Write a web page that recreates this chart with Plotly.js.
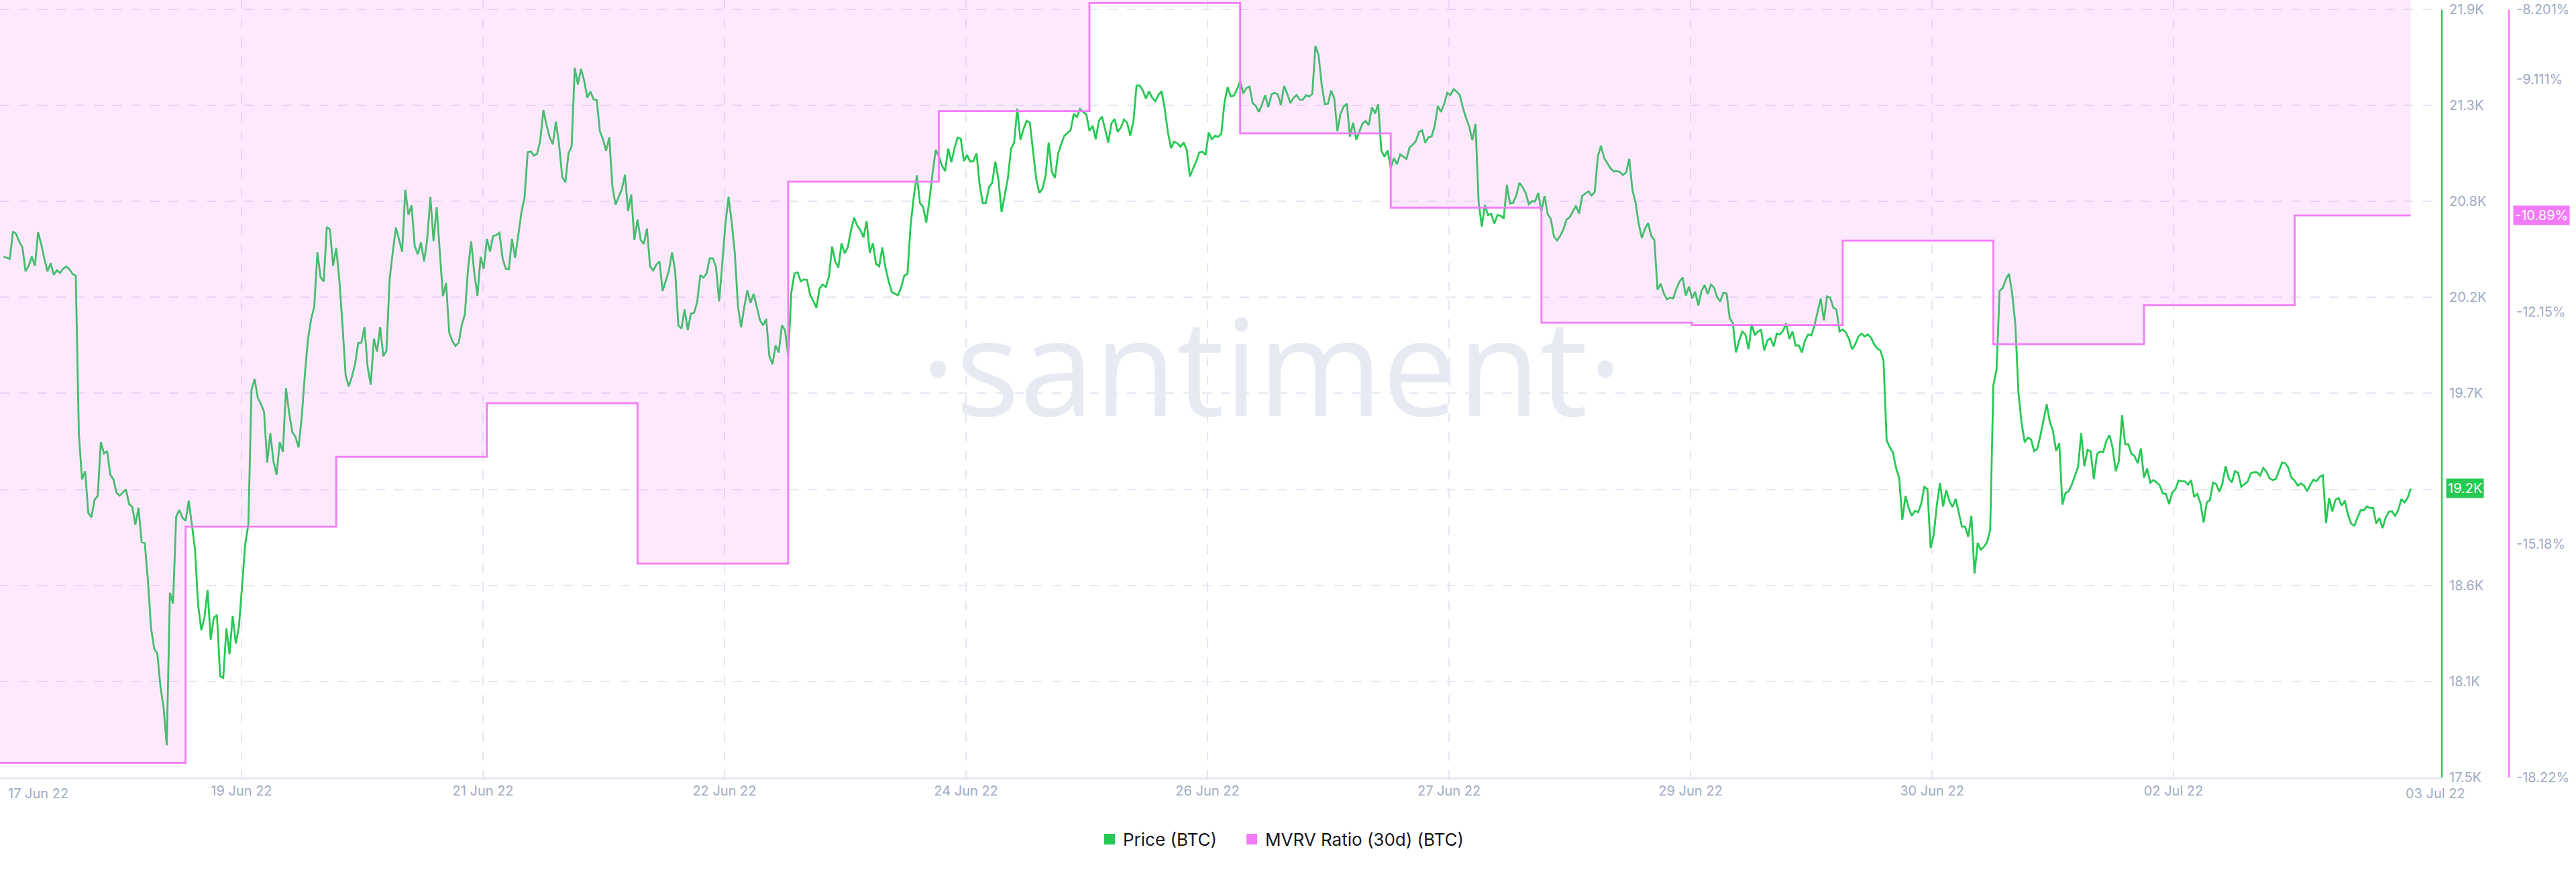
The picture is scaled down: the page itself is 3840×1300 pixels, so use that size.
<!DOCTYPE html>
<html>
<head>
<meta charset="utf-8">
<script src="https://cdn.plot.ly/plotly-3.0.1.min.js"></script>
<style>
  html, body { margin: 0; padding: 0; background: #ffffff; }
  #chart { width: 3840px; height: 1300px; }
</style>
</head>
<body>
<div id="chart"></div>
<script>
// ---------- DATA ----------
// BTC price (USD), 30-minute samples, first sample at priceStart (chart local time)
const priceStart = '2022-06-18 00:30';
const priceStepMinutes = 30;
const priceValues = [
20482,20476,20470,20627,20613,20568,20537,20399,20430,20483,
20430,20623,20554,20470,20399,20446,20379,20405,20389,20414,
20426,20410,20383,20373,19465,19207,19254,19014,18990,19091,
19112,19420,19355,19370,19234,19207,19130,19114,19132,19150,
19065,19051,18947,19045,18848,18842,18628,18354,18238,18210,
18019,17897,17684,18557,18496,18994,19032,18988,18969,19085,
18949,18805,18486,18344,18415,18573,18289,18415,18429,18080,
18070,18354,18206,18425,18267,18364,18598,18835,18949,19719,
19782,19674,19640,19593,19303,19471,19309,19234,19420,19364,
19729,19587,19477,19451,19390,19563,19806,20009,20125,20196,
20507,20365,20340,20653,20639,20430,20533,20345,20091,19802,
19739,19796,19867,19989,19989,20080,19851,19749,20013,19938,
20080,19912,19944,20351,20507,20649,20582,20510,
20866,20722,20777,20544,20496,20564,20455,20585,20825,20571,
20766,20516,20256,20332,20048,19999,19971,19989,20092,20153,
20414,20571,20386,20259,20482,20414,20585,20512,20601,20606,
20619,20473,20414,20411,20585,20475,20599,20736,20821,21081,
21085,21062,21072,21147,21322,21236,21167,21126,21256,21126,
20941,20907,21072,21115,21565,21469,21558,21490,21394,21428,
21383,21380,21202,21154,21089,21167,20884,20780,20825,20870,
20952,20743,20839,20578,20695,20578,20555,20643,20427,20404,
20437,20455,20286,20345,20403,20506,20400,20089,20071,20181,
20062,20157,20160,20222,20377,20363,20386,20473,20473,20423,
20226,20441,20670,20825,20681,20503,20199,20078,20194,20290,
20218,20270,20199,20119,20089,20126,19914,19866,19975,19934,
20089,20062,19914,20277,20386,20393,20341,20352,20349,20263,
20229,20190,20300,
20323,20309,20370,20540,20455,20420,20559,20502,20536,20632,
20706,20661,20635,20593,20686,20505,20559,20441,20427,20536,
20420,20342,20280,20271,20261,20306,20374,20384,20658,20824,
20948,20789,20767,20678,20806,20959,21094,21058,21004,20973,
21101,21023,21104,21165,21158,21030,21065,21027,21030,21075,
20895,20789,20791,20881,20905,21027,20924,20739,20838,20931,
21101,21136,21331,21151,21214,21261,21250,21080,20931,20848,
20871,20945,21136,20970,20933,21073,21129,21175,21193,21207,
21300,21283,21328,21311,21297,21203,21232,21155,21260,21285,
21207,21136,21246,21271,21197,21222,21268,21250,21175,21257,
21463,21463,21434,21388,21430,21392,21373,21410,21430,21328,
21193,21104,21141,21132,21112,21136,21094,20942,20987,21027,
21080,21084,21065,21193,21155,21175,21169,21186,
21362,21454,21401,21404,21441,21487,21417,21448,21457,21362,
21346,21312,21355,21408,21338,21412,21421,21412,21351,21461,
21417,21362,21391,21408,21382,21382,21408,21399,21415,21690,
21637,21468,21355,21359,21435,21388,21201,21302,21342,21359,
21170,21250,21153,21201,21246,21259,21236,21338,21302,21355,
21091,21055,21091,20992,21047,21012,21069,21055,21042,21108,
21124,21144,21197,21206,21135,21166,21170,21232,21346,21312,
21355,21421,21408,21441,21428,21408,21335,21276,21227,21150,
21243,20796,20655,20778,20721,20728,20672,20721,20717,20701,
20893,20787,20791,20833,20906,20880,20847,20783,20800,20800,
20847,20741,20831,20725,20699,20598,20576,20602,20638,20695,
20708,20741,20774,20730,20831,20844,20857,20833,20853,21058,
21117,21047,21018,20989,20972,20972,20968,20950,20965,
21043,20865,20791,20671,20590,20642,20676,20602,20577,20294,
20328,20272,20238,20248,20243,20299,20340,20363,20260,20311,
20243,20282,20203,20286,20320,20268,20323,20306,20251,20226,
20277,20272,20131,20101,19934,20003,20054,20037,19952,20097,
20032,20054,20063,19946,20003,20015,19969,20042,20037,20059,
20101,20011,20054,19974,19974,19934,20003,20037,20032,20089,
20166,20243,20118,20255,20248,20191,20179,20054,20066,20049,
20011,19952,19981,20025,20042,20025,20037,20020,19981,19957,
19946,19888,19432,19391,19361,19272,19215,18975,19112,19044,
18998,19027,19018,19066,19164,19152,18813,18890,19061,19186,
19052,19147,19083,19049,19095,19015,18936,18936,18878,18998,
18667,18843,18804,18821,18847,18919,19746,19832,20286,20303,
20354,20385,20272,20097,
19702,19529,19420,19446,19436,19369,19382,19459,19548,19638,
19535,19484,19369,19414,19062,19129,19139,19177,19228,19280,
19471,19282,19376,19367,19209,19350,19367,19363,19427,19461,
19388,19254,19312,19574,19408,19408,19354,19341,19299,19384,
19216,19269,19188,19203,19190,19173,19126,19124,19065,19133,
19149,19200,19196,19196,19177,19203,19107,19124,19069,18960,
19075,19088,19188,19180,19136,19184,19282,19213,19190,19254,
19244,19165,19180,19193,19241,19248,19248,19228,19273,19251,
19213,19203,19209,19254,19303,19299,19273,19216,19200,19171,
19184,19171,19139,19177,19205,19197,19222,19231,18957,19101,
19024,19090,19101,19056,19085,19005,18954,18941,18986,19030,
19030,19052,19043,19043,18954,18986,18928,18988,19021,19024,
18998,19030,19094,19075,19101,19154
];

// MVRV Ratio (30d), daily values (%), last entry = latest reading at the end of the data
const mvrvDates = [
'2022-06-17 05:30','2022-06-18 05:30','2022-06-19 05:30','2022-06-20 05:30',
'2022-06-21 05:30','2022-06-22 05:30','2022-06-23 05:30','2022-06-24 05:30',
'2022-06-25 05:30','2022-06-26 05:30','2022-06-27 05:30','2022-06-28 05:30',
'2022-06-29 05:30','2022-06-30 05:30','2022-07-01 05:30','2022-07-02 05:30',
'2022-07-03 05:30','2022-07-04 00:00'
];
const mvrvValues = [
-18.03,-18.03,-14.95,-14.04,-13.34,-15.43,-10.45,-9.53,
-8.12,-9.82,-10.79,-12.29,-12.32,-11.22,-12.57,-12.06,
-10.89,-10.89
];

// Axes
const xRange = ['2022-06-17 23:56','2022-07-04 04:57'];
const xTickVals = ['2022-06-17 23:56','2022-06-19 14:24','2022-06-21 04:53','2022-06-22 19:21',
  '2022-06-24 09:50','2022-06-26 00:18','2022-06-27 14:47','2022-06-29 05:15',
  '2022-06-30 19:44','2022-07-02 10:12'];
const xTickText = ['17 Jun 22','19 Jun 22','21 Jun 22','22 Jun 22','24 Jun 22','26 Jun 22',
  '27 Jun 22','29 Jun 22','30 Jun 22','02 Jul 22'];
const xEndLabel = '03 Jul 22';
const xEndLabelPos = '2022-07-04 03:53';

const priceRange = [17500, 21952.6];
const priceTickVals = [17500,18050,18600,19150,19700,20250,20800,21350,21900];
const priceTickText = ['17.5K','18.1K','18.6K','19.2K','19.7K','20.2K','20.8K','21.3K','21.9K'];

const mvrvRange = [-18.22, -8.081];
const mvrvTickVals = [-18.22,-15.18,-12.15,-9.111,-8.201];
const mvrvTickText = ['-18.22%','-15.18%','-12.15%','-9.111%','-8.201%'];

const seriesNames = ['Price (BTC)', 'MVRV Ratio (30d) (BTC)'];

// ---------- BUILD ----------
function parseLocal(s) {
  const m = s.match(/(\d+)-(\d+)-(\d+) (\d+):(\d+)/);
  return Date.UTC(+m[1], +m[2]-1, +m[3], +m[4], +m[5]);
}
function fmt(ms) {
  const d = new Date(ms), p = n => String(n).padStart(2,'0');
  return d.getUTCFullYear()+'-'+p(d.getUTCMonth()+1)+'-'+p(d.getUTCDate())+' '+p(d.getUTCHours())+':'+p(d.getUTCMinutes());
}
const t0 = parseLocal(priceStart);
const priceTimes = priceValues.map((_, i) => fmt(t0 + i*priceStepMinutes*60000));

const GREEN = '#26c953', PINK = '#f47bf7';
const FONT = 'Inter, "Open Sans", sans-serif';
const TICK_FONT = {family: FONT, size: 20, color: '#9faac4'};
const LEGEND_FONT = {family: FONT, size: 26, color: '#15161d'};
const GRID = '#e4e7f2';
const W = 3840, H = 1300, ML = 0, MR = 100, MT = 0, MB = 141;
const paperW = W - ML - MR;             // 3740
const plotRight = 3640;                  // price axis position
const plotH = H - MT - MB;               // 1159
const axisTop = 14.5;                    // axis lines start here (px from top)
const py = px => (plotH - px) / plotH;   // pixel row -> paper y

const traces = [
  { x: priceTimes, y: priceValues, type: 'scatter', mode: 'lines', yaxis: 'y',
    line: {color: GREEN, width: 2.8}, showlegend: false, hoverinfo: 'skip' },
  { x: mvrvDates, y: mvrvValues, type: 'scatter', mode: 'lines', yaxis: 'y2',
    line: {color: PINK, width: 2.8, shape: 'hv'}, fill: 'tozeroy',
    fillcolor: 'rgba(244,123,247,0.17)', showlegend: false, hoverinfo: 'skip' },
  { x: [null], y: [null], type: 'scatter', mode: 'markers', name: seriesNames[0], legend: 'legend',
    marker: {symbol: 'square', size: 16, color: GREEN} },
  { x: [null], y: [null], type: 'scatter', mode: 'markers', name: seriesNames[1], legend: 'legend2',
    marker: {symbol: 'square', size: 16, color: PINK} }
];

const labelY = py(1183);
const lastPrice = priceValues[priceValues.length - 1];
const lastMvrv = mvrvValues[mvrvValues.length - 1];

const legendBase = {
  orientation: 'h', xanchor: 'left', y: py(1251), yanchor: 'middle',
  font: LEGEND_FONT, itemsizing: 'trace', bgcolor: 'rgba(0,0,0,0)'
};

const layout = {
  width: W, height: H,
  margin: {l: ML, r: MR, t: MT, b: MB, pad: 0},
  paper_bgcolor: '#ffffff', plot_bgcolor: '#ffffff',
  font: {family: FONT},
  xaxis: {
    type: 'date', domain: [0, plotRight / paperW], range: xRange,
    tickmode: 'array', tickvals: xTickVals, ticktext: xTickText.map((t, i) => i === 0 ? '' : t),
    showgrid: true, gridcolor: GRID, gridwidth: 2, griddash: '14px,14px',
    showline: true, linecolor: '#e6e9f3', linewidth: 3,
    ticks: '', tickfont: TICK_FONT, ticklabelstandoff: 0, zeroline: false, fixedrange: true
  },
  yaxis: {
    side: 'right', anchor: 'x', range: priceRange,
    tickmode: 'array', tickvals: priceTickVals, ticktext: priceTickText,
    showgrid: true, gridcolor: GRID, gridwidth: 2, griddash: '14px,14px',
    showline: false, ticks: '', tickfont: TICK_FONT, ticklabelstandoff: 10,
    zeroline: false, fixedrange: true
  },
  yaxis2: {
    overlaying: 'y', side: 'right', anchor: 'free', position: 1, range: mvrvRange,
    tickmode: 'array', tickvals: mvrvTickVals, ticktext: mvrvTickText,
    showgrid: false, showline: false, ticks: '', tickfont: TICK_FONT, ticklabelstandoff: 10,
    zeroline: false, fixedrange: true
  },
  shapes: [
    { type: 'line', xref: 'paper', yref: 'paper', x0: plotRight / paperW, x1: plotRight / paperW,
      y0: 0, y1: py(axisTop), line: {color: GREEN, width: 2.5} },
    { type: 'line', xref: 'paper', yref: 'paper', x0: 1, x1: 1,
      y0: 0, y1: py(axisTop), line: {color: PINK, width: 2.5} }
  ],
  legend: Object.assign({}, legendBase, {x: 1634 / paperW}),
  legend2: Object.assign({}, legendBase, {x: 1846 / paperW}),
  annotations: [
    { text: '·santiment·', xref: 'paper', yref: 'paper', x: 1895 / paperW, y: py(542),
      xanchor: 'center', yanchor: 'middle', showarrow: false,
      font: {family: '"Open Sans", sans-serif', size: 200, color: '#e7eaf3'} },
    { text: xTickText[0], xref: 'paper', yref: 'paper', x: 0, xshift: 10, y: labelY,
      xanchor: 'left', yanchor: 'middle', showarrow: false, font: TICK_FONT },
    { text: xEndLabel, xref: 'x', yref: 'paper', x: xEndLabelPos, y: labelY,
      xanchor: 'center', yanchor: 'middle', showarrow: false, font: TICK_FONT },
    { text: (lastPrice / 1000).toFixed(1) + 'K', xref: 'paper', yref: 'y', x: 3646 / paperW, y: lastPrice,
      xanchor: 'left', yanchor: 'middle', showarrow: false, bgcolor: GREEN, borderpad: 2,
      font: {family: FONT, size: 20, color: '#ffffff'} },
    { text: lastMvrv.toFixed(2) + '%', xref: 'paper', yref: 'y2', x: 3746 / paperW, y: lastMvrv,
      xanchor: 'left', yanchor: 'middle', showarrow: false, bgcolor: PINK, borderpad: 2,
      font: {family: FONT, size: 20, color: '#ffffff'} }
  ]
};

Plotly.newPlot('chart', traces, layout, {displayModeBar: false, staticPlot: true});
</script>
</body>
</html>
